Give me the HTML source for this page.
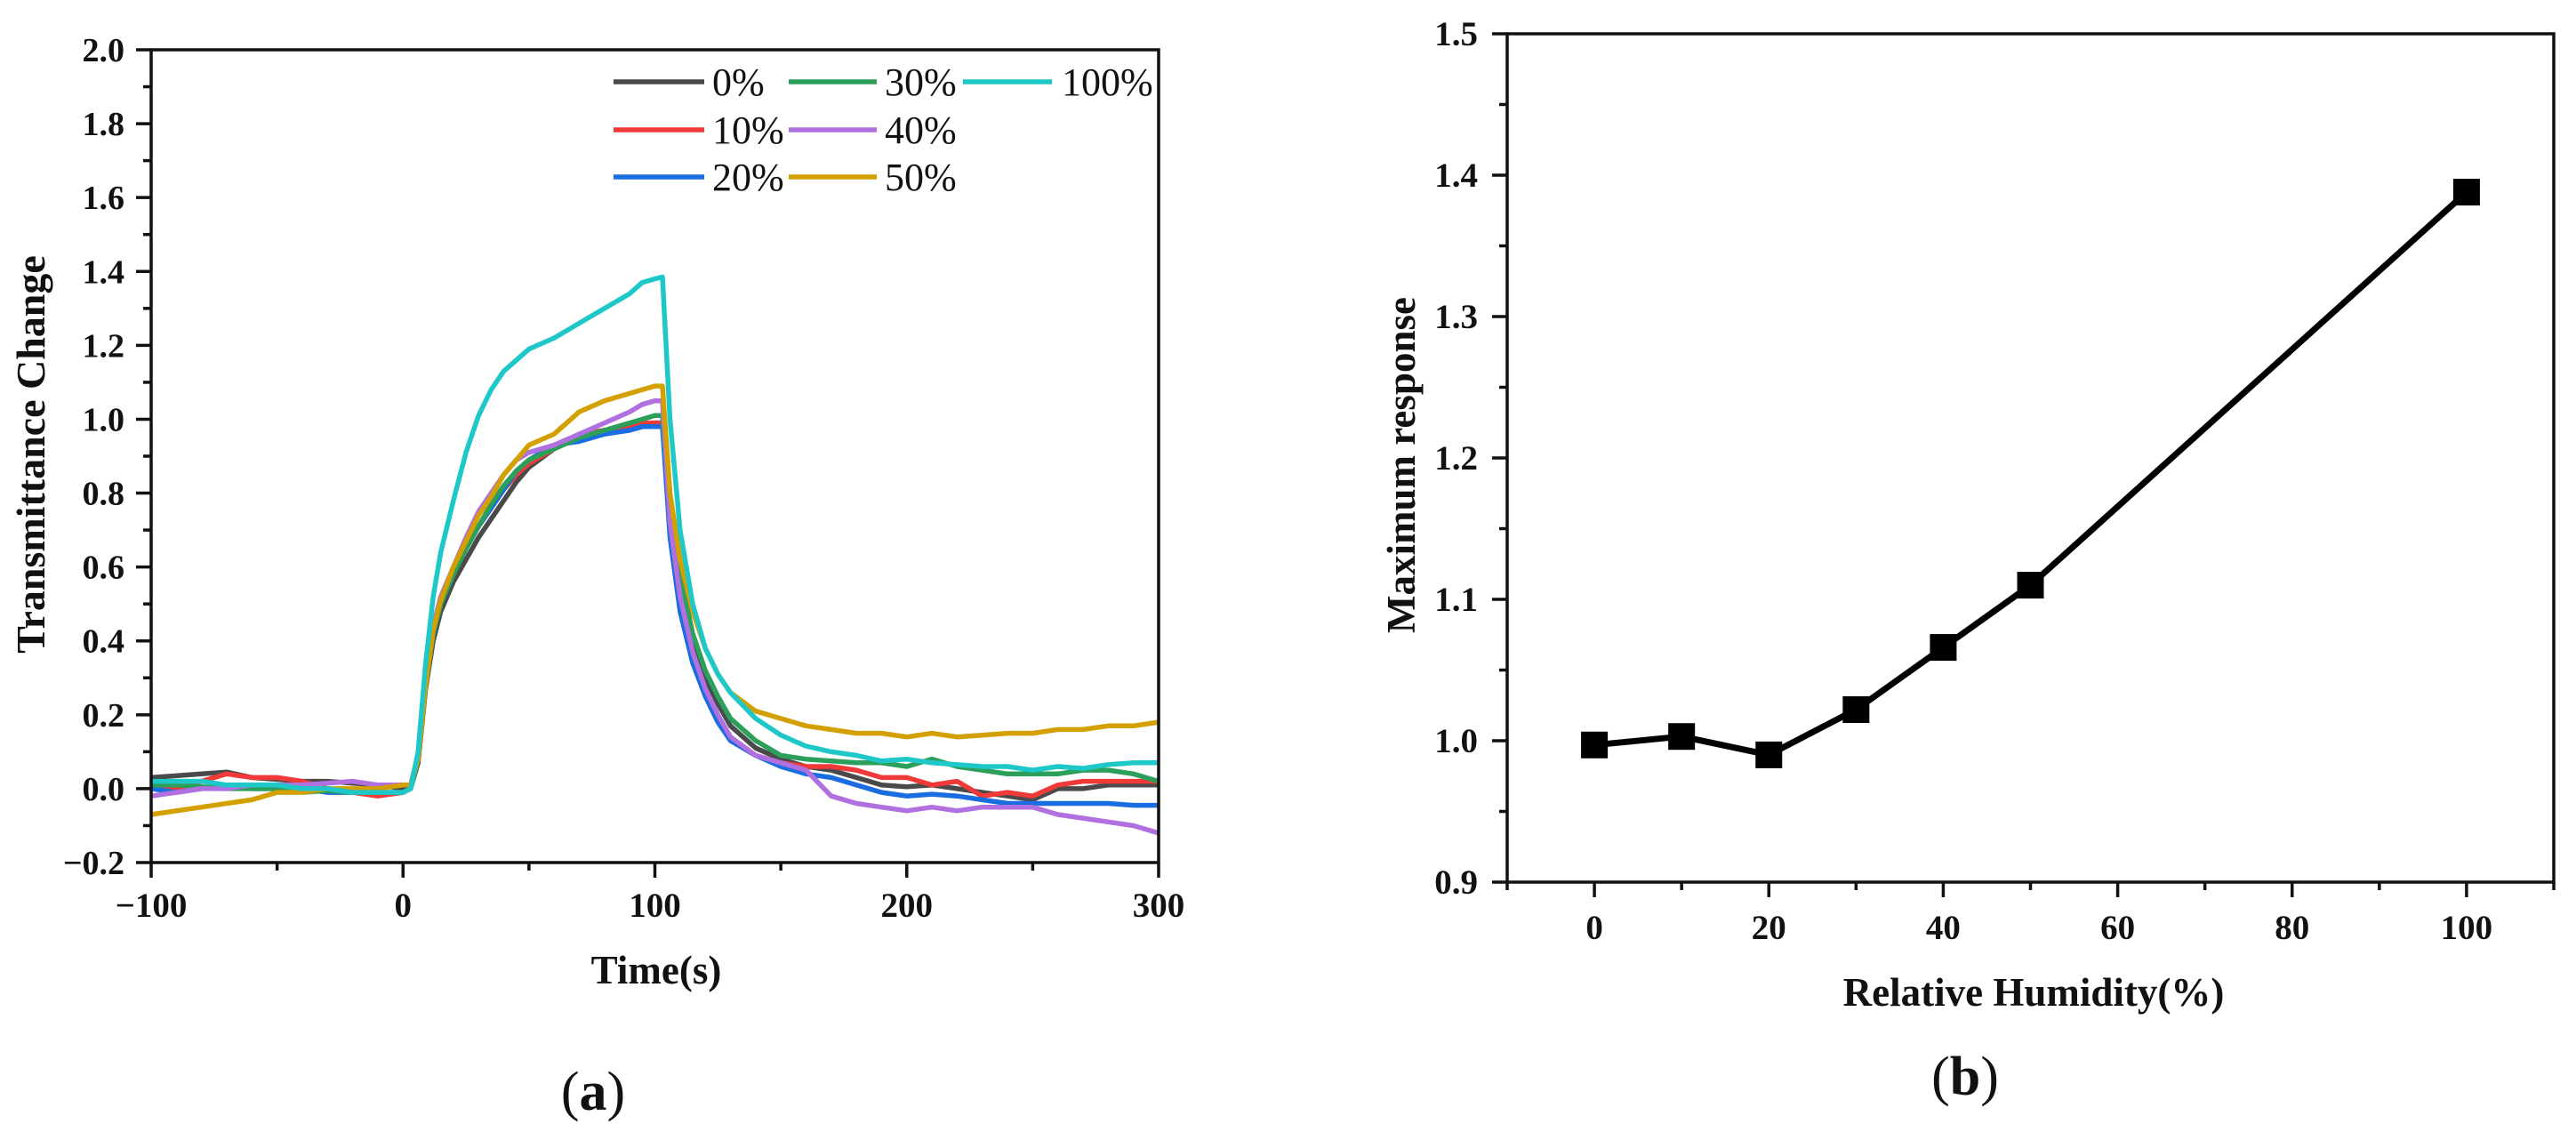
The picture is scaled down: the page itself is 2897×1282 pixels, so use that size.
<!DOCTYPE html>
<html><head><meta charset="utf-8"><style>
html,body{margin:0;padding:0;background:#fff}
svg{display:block}
text{font-family:"Liberation Serif",serif;fill:#111}
</style></head><body>
<svg id="fig" width="2897" height="1282" viewBox="0 0 2897 1282" xmlns="http://www.w3.org/2000/svg">
<g id="chartA"></g>
<g id="chartB"></g>
<text x="667" y="1248" font-size="62" text-anchor="middle">(<tspan font-weight="bold">a</tspan>)</text>
<text x="2210" y="1231" font-size="62" text-anchor="middle">(<tspan font-weight="bold">b</tspan>)</text>
</svg>
<script>
// ---------- Chart A data ----------
const timeA = [-100,-90,-80,-70,-60,-50,-40,-30,-20,-10,0,3,6,9,12,15,20,25,30,35,40,45,50,60,70,80,90,95,100,103,106,110,115,120,125,130,140,150,160,170,180,190,200,210,220,230,240,250,260,270,280,290,300];
const seriesNames = ["0%","10%","20%","30%","40%","50%","100%"];
const s0 = [0.03,0.035,0.04,0.045,0.03,0.025,0.02,0.02,0.015,0.01,0.0, 0.0,0.07,0.27,0.40,0.48,0.56,0.62,0.68,0.73,0.78,0.83,0.87,0.92,0.95,0.97,0.98,0.985,0.99,0.99, 0.72,0.55,0.40,0.30,0.23,0.17,0.11,0.08,0.06,0.05,0.03,0.01,0.005,0.01,0.0,-0.01,-0.02,-0.03,0.0,0.0,0.01,0.01,0.01];
const s10 = [0.01,0.0,0.02,0.04,0.03,0.03,0.02,0.0,-0.01,-0.02,-0.01, 0.0,0.08,0.29,0.42,0.50,0.58,0.65,0.71,0.76,0.81,0.85,0.88,0.92,0.96,0.97,0.98,0.99,0.99,0.99, 0.70,0.50,0.36,0.26,0.19,0.13,0.09,0.07,0.06,0.06,0.05,0.03,0.03,0.01,0.02,-0.02,-0.01,-0.02,0.01,0.02,0.02,0.02,0.02];
const s20 = [0.0,-0.01,0.0,0.01,0.0,0.0,0.0,-0.01,-0.01,-0.01,-0.01, 0.0,0.08,0.28,0.42,0.50,0.58,0.65,0.71,0.76,0.81,0.86,0.89,0.93,0.94,0.96,0.97,0.98,0.98,0.98, 0.68,0.48,0.34,0.25,0.18,0.13,0.09,0.06,0.04,0.03,0.01,-0.01,-0.02,-0.015,-0.02,-0.03,-0.04,-0.04,-0.04,-0.04,-0.04,-0.045,-0.045];
const s30 = [0.01,0.01,0.005,0.0,0.0,0.0,-0.01,-0.005,-0.01,-0.01,-0.01, 0.0,0.08,0.28,0.42,0.50,0.58,0.65,0.71,0.77,0.82,0.86,0.89,0.92,0.95,0.97,0.99,1.0,1.01,1.01, 0.75,0.58,0.42,0.32,0.25,0.19,0.13,0.09,0.08,0.075,0.07,0.07,0.06,0.08,0.06,0.05,0.04,0.04,0.04,0.05,0.05,0.04,0.02];
const s40 = [-0.02,-0.01,0.0,0.0,0.01,0.01,0.01,0.015,0.02,0.01,0.01, 0.01,0.09,0.30,0.44,0.52,0.60,0.68,0.75,0.80,0.85,0.89,0.91,0.93,0.96,0.99,1.02,1.04,1.05,1.05, 0.72,0.52,0.37,0.27,0.20,0.14,0.09,0.07,0.05,-0.02,-0.04,-0.05,-0.06,-0.05,-0.06,-0.05,-0.05,-0.05,-0.07,-0.08,-0.09,-0.1,-0.12];
const s50 = [-0.07,-0.06,-0.05,-0.04,-0.03,-0.01,-0.01,0.0,0.0,0.0,0.01, 0.01,0.08,0.28,0.43,0.51,0.60,0.67,0.74,0.79,0.85,0.89,0.93,0.96,1.02,1.05,1.07,1.08,1.09,1.09, 0.80,0.62,0.48,0.38,0.31,0.26,0.21,0.19,0.17,0.16,0.15,0.15,0.14,0.15,0.14,0.145,0.15,0.15,0.16,0.16,0.17,0.17,0.18];
const s100 = [0.02,0.02,0.02,0.01,0.01,0.01,0.0,0.0,-0.01,-0.01,-0.01, 0.0,0.10,0.34,0.52,0.64,0.78,0.91,1.01,1.08,1.13,1.16,1.19,1.22,1.26,1.30,1.34,1.37,1.38,1.385, 1.0,0.70,0.50,0.38,0.31,0.26,0.19,0.145,0.115,0.10,0.09,0.075,0.08,0.07,0.065,0.06,0.06,0.05,0.06,0.055,0.065,0.07,0.07];
const xTicksA = [-100,0,100,200,300];
const xTickLabelsA = ["\u2212100","0","100","200","300"];
const yTicksA = [-0.2,0,0.2,0.4,0.6,0.8,1.0,1.2,1.4,1.6,1.8,2.0];
const yTickLabelsA = ["\u22120.2","0.0","0.2","0.4","0.6","0.8","1.0","1.2","1.4","1.6","1.8","2.0"];

// ---------- Chart B data ----------
const humidity = [0,10,20,30,40,50,100];
const maxResponse = [0.997,1.003,0.990,1.022,1.066,1.110,1.388];
const xTicksB = [0,20,40,60,80,100];
const xTickLabelsB = ["0","20","40","60","80","100"];
const yTicksB = [0.9,1.0,1.1,1.2,1.3,1.4,1.5];
const yTickLabelsB = ["0.9","1.0","1.1","1.2","1.3","1.4","1.5"];

const NS = "http://www.w3.org/2000/svg";
function mk(tag, attrs, parent){const e=document.createElementNS(NS,tag);for(const k in attrs)e.setAttribute(k,attrs[k]);parent.appendChild(e);return e;}

// ---------- Chart A ----------
(function(){
  const g = document.getElementById('chartA');
  const L=170,R=1303,T=56,B=970, xmin=-100,xmax=300,ymin=-0.2,ymax=2.0;
  const X=v=>L+(v-xmin)/(xmax-xmin)*(R-L);
  const Y=v=>B-(v-ymin)/(ymax-ymin)*(B-T);
  const colors=["#4a4a4a","#f03a3a","#1a6de0","#2ca05a","#b070e0","#d4a000","#1ec8c8"];
  const data=[s0,s10,s20,s30,s40,s50,s100];
  const plot = mk('g',{},g);
  
  
  data.forEach((s,i)=>{
    const d=s.map((v,j)=>(j?'L':'M')+X(timeA[j]).toFixed(1)+' '+Y(v).toFixed(1)).join(' ');
    const p=mk('path',{d:d,fill:'none',stroke:colors[i],'stroke-width':5.5,'stroke-linejoin':'round'},plot);
    
    
  });
  const frame=mk('rect',{x:L,y:T,width:R-L,height:B-T,fill:'none',stroke:'#111','stroke-width':3.5},g);
  
  
  yTicksA.forEach((v,i)=>{
    const t=mk('line',{x1:L-17,x2:L,y1:Y(v),y2:Y(v),stroke:'#111','stroke-width':3.5},g);
    
    
    if(i<yTicksA.length-1){
      const m=mk('line',{x1:L-9,x2:L,y1:Y(v+0.1),y2:Y(v+0.1),stroke:'#111','stroke-width':3.5},g);
      
      
    }
    const lb=mk('text',{x:L-30,y:Y(v)+13,'font-size':38,'font-weight':'bold','text-anchor':'end'},g);
    lb.textContent=yTickLabelsA[i];
    
    
  });
  xTicksA.forEach((v,i)=>{
    const t=mk('line',{x1:X(v),x2:X(v),y1:B,y2:B+17,stroke:'#111','stroke-width':3.5},g);
    
    
    if(i<xTicksA.length-1){
      const m=mk('line',{x1:X(v+50),x2:X(v+50),y1:B,y2:B+9,stroke:'#111','stroke-width':3.5},g);
      
      
    }
    const lb=mk('text',{x:X(v),y:1031,'font-size':39,'font-weight':'bold','text-anchor':'middle'},g);
    lb.textContent=xTickLabelsA[i];
    
    
  });
  const xt=mk('text',{x:738,y:1106,'font-size':45,'font-weight':'bold','text-anchor':'middle'},g);
  xt.textContent='Time(s)';
  
  
  const yt=mk('text',{x:0,y:0,'font-size':46,'font-weight':'bold','text-anchor':'middle',transform:'translate(50,511) rotate(-90)'},g);
  yt.textContent='Transmittance Change';
  
  
  const leg=mk('g',{},g);
  
  
  const cols=[[690,792,801],[887,986,995],[1083,1183,1194]];
  const rows=[92,146,199];
  const layout=[[0,0],[1,0],[2,0],[0,1],[1,1],[2,1],[0,2]];
  data.forEach((s,i)=>{
    const r=layout[i][0], c=layout[i][1];
    const e=mk('g',{},leg);
    
    
    mk('line',{x1:cols[c][0],x2:cols[c][1],y1:rows[r],y2:rows[r],stroke:colors[i],'stroke-width':5.5},e);
    const tx=mk('text',{x:cols[c][2],y:rows[r]+15,'font-size':44},e);
    tx.textContent=seriesNames[i];
  });
})();

// ---------- Chart B ----------
(function(){
  const g=document.getElementById('chartB');
  const L=1695,R=2872,T=38,B=992,xmin=-10,xmax=110,ymin=0.9,ymax=1.5;
  const X=v=>L+(v-xmin)/(xmax-xmin)*(R-L);
  const Y=v=>B-(v-ymin)/(ymax-ymin)*(B-T);
  const frame=mk('rect',{x:L,y:T,width:R-L,height:B-T,fill:'none',stroke:'#111','stroke-width':3.5},g);
  
  
  yTicksB.forEach((v,i)=>{
    const t=mk('line',{x1:L-17,x2:L,y1:Y(v),y2:Y(v),stroke:'#111','stroke-width':3.5},g);
    
    
    if(i<yTicksB.length-1){
      const m=mk('line',{x1:L-9,x2:L,y1:Y(v+0.05),y2:Y(v+0.05),stroke:'#111','stroke-width':3.5},g);
      
      
    }
    const lb=mk('text',{x:L-33,y:Y(v)+13,'font-size':39,'font-weight':'bold','text-anchor':'end'},g);
    lb.textContent=yTickLabelsB[i];
    
    
  });
  for(let v=-10; v<=110; v+=10){
    const major = xTicksB.indexOf(v)>=0;
    const t=mk('line',{x1:X(v),x2:X(v),y1:B,y2:B+(major?17:9),stroke:'#111','stroke-width':3.5},g);
    
    
  }
  xTicksB.forEach((v,i)=>{
    const lb=mk('text',{x:X(v),y:1056,'font-size':39,'font-weight':'bold','text-anchor':'middle'},g);
    lb.textContent=xTickLabelsB[i];
    
    
  });
  const d=humidity.map((h,j)=>(j?'L':'M')+X(h).toFixed(1)+' '+Y(maxResponse[j]).toFixed(1)).join(' ');
  const line=mk('path',{d:d,fill:'none',stroke:'#000','stroke-width':7,'stroke-linejoin':'round'},g);
  
  
  humidity.forEach((h,j)=>{
    const m=mk('rect',{x:X(h)-15,y:Y(maxResponse[j])-15,width:30,height:30,fill:'#000'},g);
    
    
  });
  const xt=mk('text',{x:2287,y:1131,'font-size':45,'font-weight':'bold','text-anchor':'middle'},g);
  xt.textContent='Relative Humidity(%)';
  
  
  const yt=mk('text',{x:0,y:0,'font-size':45,'font-weight':'bold','text-anchor':'middle',transform:'translate(1591,523) rotate(-90)'},g);
  yt.textContent='Maximum response';
  
  
})();
</script>
</body></html>
